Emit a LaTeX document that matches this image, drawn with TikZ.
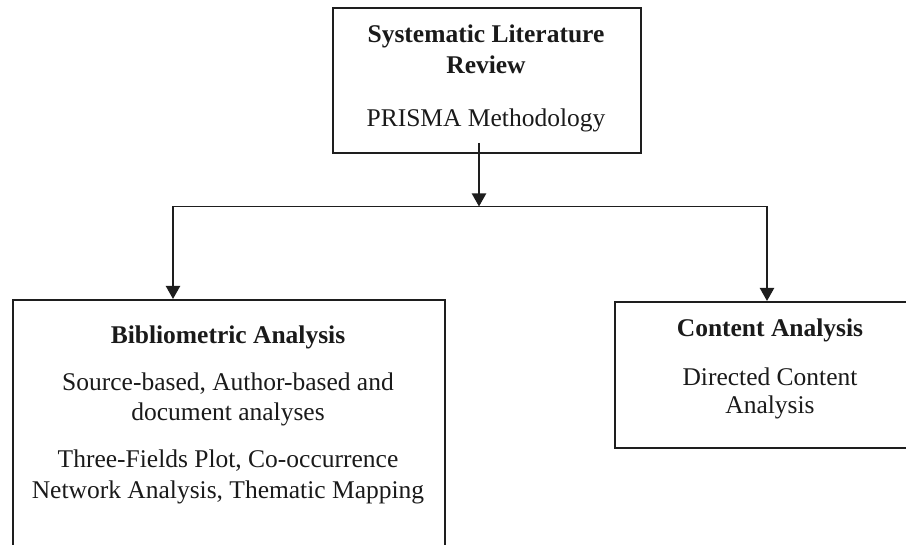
\documentclass[tikz,border=0pt]{standalone}
\usepackage{fontspec}
\setmainfont{Liberation Serif}
\usetikzlibrary{arrows.meta}
\definecolor{linecol}{HTML}{1E1E1E}
\definecolor{textcol}{HTML}{1A1A1A}
\begin{document}
\begin{tikzpicture}[x=1pt,y=-1pt,
  box/.style={draw=linecol,line width=2.2pt,inner sep=0pt,anchor=north west},
  txt/.style={font=\fontsize{25.5}{30}\selectfont,text=textcol,anchor=base,inner sep=0pt},
  ttl/.style={txt,font=\fontsize{25.5}{30}\selectfont\bfseries},
  link/.style={draw=linecol,line width=1.3pt},
  arr/.style={draw=linecol,line width=2.2pt,-{Triangle[width=14pt,length=13pt]}}]
\useasboundingbox (0,0) rectangle (906,545);
\clip (0,0) rectangle (906,545);

% boxes
\node[box,minimum width=308pt,minimum height=145pt] (slrbox) at (332,7) {};
\node[box,minimum width=432pt,minimum height=300pt] (bibbox) at (12,299) {};
\node[box,minimum width=320pt,minimum height=146pt] (cabox) at (614,301) {};

% top box text
\node[ttl] (slr1) at (486,43) {Systematic Literature};
\node[ttl] (slr2) at (486,74) {Review};
\node[txt] (prisma) at (486,127) {PRISMA Methodology};

% bibliometric box text
\node[ttl] (bib) at (228,344) {Bibliometric Analysis};
\node[txt] (src1) at (228,391) {Source-based, Author-based and};
\node[txt] (src2) at (228,421) {document analyses};
\node[txt] (tf1) at (228,468) {Three-Fields Plot, Co-occurrence};
\node[txt] (tf2) at (228,499) {Network Analysis, Thematic Mapping};

% content analysis box text
\node[ttl] (ca) at (770,337) {Content Analysis};
\node[txt] (dca1) at (770,386) {Directed Content};
\node[txt] (dca2) at (770,414) {Analysis};

% connectors
\coordinate (from) at (479,143);
\coordinate (split) at (479,206.5);
\coordinate (lcorner) at (173,206.5);
\coordinate (rcorner) at (767,206.5);
\draw[arr] (from) -- (split);
\draw[link] (lcorner) -- (rcorner);
\draw[arr] (lcorner) -- (lcorner |- bibbox.north);
\draw[arr] (rcorner) -- (rcorner |- cabox.north);
\end{tikzpicture}
\end{document}
